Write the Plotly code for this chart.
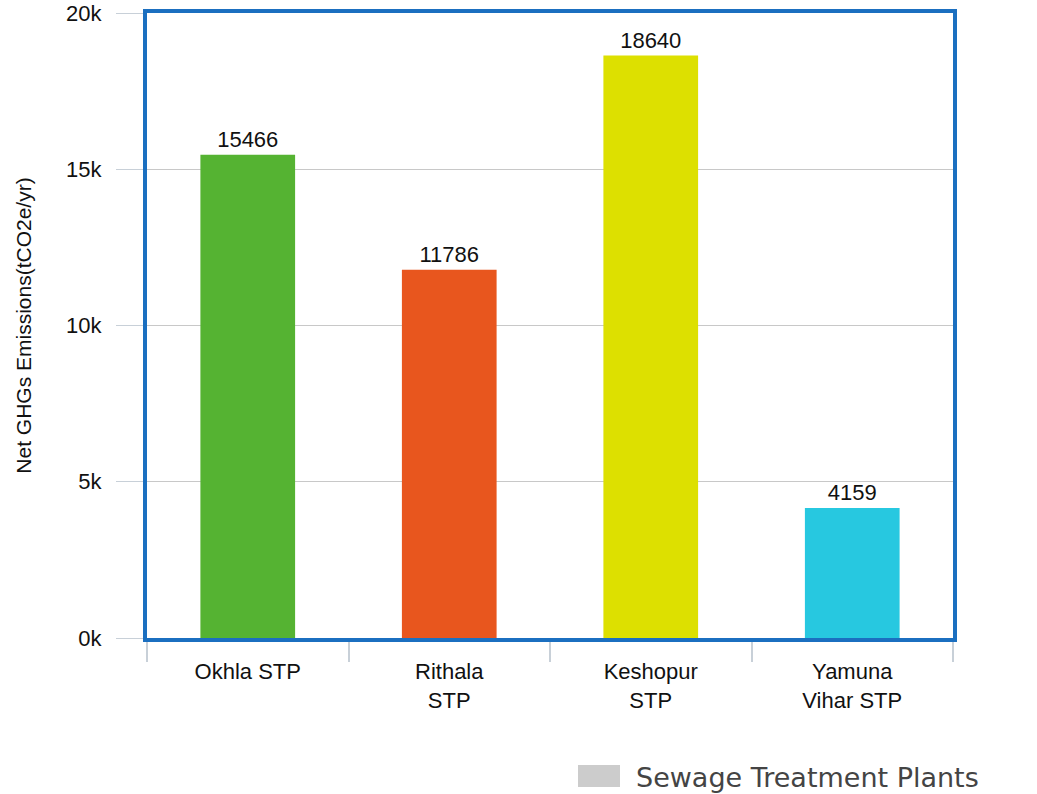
import plotly.graph_objects as go

categories = ["Okhla STP", "Rithala<br>STP", "Keshopur<br>STP", "Yamuna<br>Vihar STP"]
values = [15466, 11786, 18640, 4159]
colors = ["#55b332", "#e8561e", "#dde000", "#27c8e0"]
y_tickvals = [0, 5000, 10000, 15000, 20000]
y_ticktext = ["0k", "5k", "10k", "15k", "20k"]
legend_label = "Sewage Treatment Plants"

FONT = "Liberation Sans, Arial, sans-serif"

fig = go.Figure()
fig.add_trace(go.Bar(
    x=categories, y=values, marker=dict(color=colors, line=dict(width=0)),
    width=0.47, text=[str(v) for v in values], textposition="outside",
    textfont=dict(family=FONT, size=22, color="#111"),
    cliponaxis=False, showlegend=False,
))

fig.update_layout(
    width=1037, height=794,
    margin=dict(l=147, r=84, t=13, b=156),
    plot_bgcolor="white", paper_bgcolor="white",
    font=dict(family=FONT, size=22, color="#111"),
    bargap=0.53,
    showlegend=False,
)
fig.update_xaxes(
    automargin=False,
    showline=True, linecolor="#1b6fc0", linewidth=4, mirror=True,
    ticks="outside", tickson="boundaries", ticklen=20, tickcolor="#c8d0d8", tickwidth=2,
    ticklabelstandoff=11,
    showgrid=False, tickfont=dict(family=FONT, size=22, color="#111"),
)
fig.update_yaxes(
    automargin=False, ticklabeloverflow="allow",
    range=[0, 20000], tickvals=y_tickvals, ticktext=y_ticktext,
    showline=True, linecolor="#1b6fc0", linewidth=4, mirror=True,
    ticks="outside", ticklen=27, tickcolor="#c8d0d8", tickwidth=1,
    ticklabelstandoff=10,
    showgrid=True, gridcolor="#c8c8c8", gridwidth=1, zeroline=False,
    tickfont=dict(family=FONT, size=22, color="#111"),
    title=dict(text="Net GHGs Emissions(tCO2e/yr)", font=dict(family=FONT, size=21, color="#111"), standoff=30),
)

# legend swatch and label
fig.add_shape(type="rect", xref="paper", yref="paper",
              x0=(578 - 147) / 806, x1=(620 - 147) / 806,
              y0=-(787 - 638) / 625, y1=-(765 - 638) / 625,
              fillcolor="#cccccc", line=dict(width=0))
fig.add_annotation(xref="paper", yref="paper", x=(634 - 147) / 806, y=-(777 - 638) / 625,
                   text=legend_label, showarrow=False, xanchor="left", yanchor="middle",
                   font=dict(family="DejaVu Sans", size=27, color="#444"))

fig.write_html("out.html")
